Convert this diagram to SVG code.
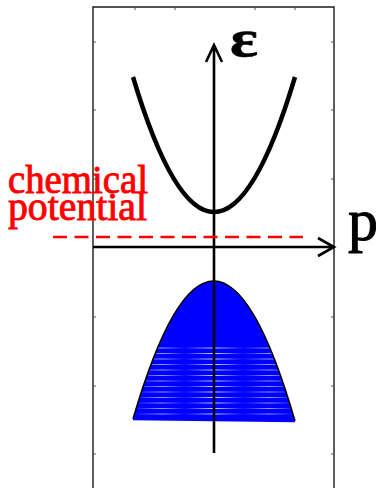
<svg xmlns="http://www.w3.org/2000/svg" width="376" height="488" viewBox="0 0 376 488">
  <style>
    .frame { fill: none; stroke: #1a1a1a; stroke-width: 1.4; }
    .tick { stroke: #555; stroke-width: 1; }
    .axis { fill: none; stroke: #000; stroke-width: 2.6; }
    .band { fill: none; stroke: #000; stroke-width: 4.5; stroke-linecap: butt; }
    .red { fill: #ff0000; stroke: #ff0000; stroke-width: 0.9; font-family: "Liberation Serif", "Times New Roman", serif; font-size: 39px; }
    .lbl { fill: #000; stroke: #000; font-family: "Liberation Serif", "Times New Roman", serif; }
    .stripe { stroke: url(#stripeGrad); stroke-width: 1.2; }
  </style>
  <defs>
    <clipPath id="vbClip">
      <path d="M133,419 Q214,142 295,421 Z"/>
    </clipPath>
    <linearGradient id="stripeGrad" gradientUnits="userSpaceOnUse" x1="133" y1="0" x2="295" y2="0">
      <stop offset="0" stop-color="#fff" stop-opacity="0"/>
      <stop offset="0.18" stop-color="#fff" stop-opacity="0.6"/>
      <stop offset="0.32" stop-color="#fff" stop-opacity="0.05"/>
      <stop offset="0.5" stop-color="#fff" stop-opacity="0.85"/>
      <stop offset="0.68" stop-color="#fff" stop-opacity="0.05"/>
      <stop offset="0.84" stop-color="#fff" stop-opacity="0.6"/>
      <stop offset="1" stop-color="#fff" stop-opacity="0"/>
    </linearGradient>
  </defs>

  <g id="frame">
    <path class="frame" d="M93,488 V7 H334 V488"/>
    <path class="tick" d="M135,7v3 M175,7v3 M255,7v3 M295,7v3
      M93,42h3 M93,110h3 M93,179h3 M93,317h3 M93,386h3 M93,454h3
      M334,42h-3 M334,110h-3 M334,179h-3 M334,317h-3 M334,386h-3 M334,454h-3"/>
  </g>

  <g id="valence-band">
    <path d="M133,419 Q214,142 295,421 Z" fill="#0000ff"/>
    <g clip-path="url(#vbClip)">
      <path class="stripe" d="M120,348H310 M120,353.5H310 M120,359H310 M120,364.5H310 M120,370H310 M120,375.5H310 M120,381H310 M120,386.5H310 M120,392H310 M120,397.5H310 M120,403H310 M120,408.5H310 M120,414H310"/>
    </g>
    <path d="M133,419 Q214,142 295,421" fill="none" stroke="#000" stroke-width="1.6"/>
    <path d="M133,419 L295,421" fill="none" stroke="#0000ff" stroke-width="2.5"/>
  </g>

  <g id="conduction-band">
    <path class="band" d="M133,77 Q214,347 295,77"/>
  </g>

  <g id="connectors">
    <path id="energy-axis" class="axis" d="M214,453 V45 M206,62 L214,45 L222,62"/>
    <path id="momentum-axis" class="axis" d="M93,247 H334 M318,238 L334,247 L318,256"/>
  </g>

  <g id="chemical-potential">
    <path d="M53,237 H303" fill="none" stroke="#ff0000" stroke-width="2.6" stroke-dasharray="14,7.5"/>
    <text class="red" x="8" y="193" textLength="140" lengthAdjust="spacingAndGlyphs">chemical</text>
    <text class="red" x="8" y="220" textLength="139" lengthAdjust="spacingAndGlyphs">potential</text>
  </g>

  <g id="label-epsilon">
    <text class="lbl" x="230" y="56" font-size="52" font-weight="bold" stroke-width="0.6" textLength="28" lengthAdjust="spacingAndGlyphs">ε</text>
  </g>
  <g id="label-p">
    <text class="lbl" x="348" y="240" font-size="60" stroke-width="1">p</text>
  </g>
</svg>
